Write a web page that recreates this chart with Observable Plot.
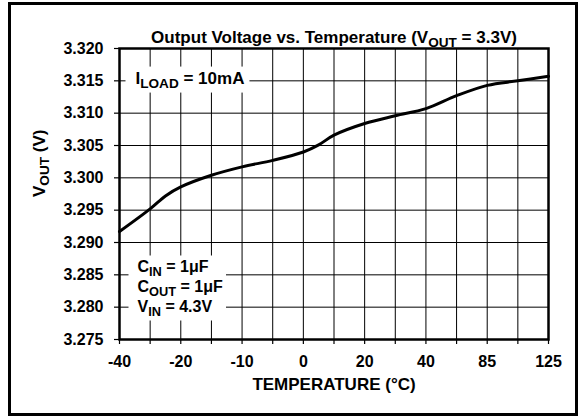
<!DOCTYPE html>
<html>
<head>
<meta charset="utf-8">
<script src="https://cdn.jsdelivr.net/npm/d3@7"></script>
<script src="https://cdn.jsdelivr.net/npm/@observablehq/plot@0.6"></script>
<style>
  body { margin: 0; background: #fff; }
  svg { display: block; }
</style>
</head>
<body>
<div id="chart"></div>
<script>
// ---- data ----
const temperatureTicks = [-40, -20, -10, 0, 20, 40, 85, 125];
const temperatureGrid = [-40, -30, -20, -15, -10, -5, 0, 10, 20, 30, 40, 62.5, 85, 105, 125];
const voltageTicks = [3.275, 3.28, 3.285, 3.29, 3.295, 3.3, 3.305, 3.31, 3.315, 3.32];
const temperature = [-40, -30, -25, -20, -15, -10, -5, 0, 5, 10, 20, 30, 40, 62.5, 85, 105, 125];
const vout = [3.2917, 3.2952, 3.2972, 3.2986, 3.3004, 3.3017, 3.3027, 3.3040, 3.3051, 3.3066, 3.3084, 3.3096, 3.3107, 3.3127, 3.3143, 3.3150, 3.3157];
const titleText = "Output Voltage vs. Temperature (V_{OUT} = 3.3V)";
const xLabel = "TEMPERATURE (°C)";
const yLabel = "V_{OUT} (V)";
const loadNote = "I_{LOAD} = 10mA";
const condNotes = ["C_{IN} = 1μF", "C_{OUT} = 1μF", "V_{IN} = 4.3V"];

const table = temperature.map((t, i) => ({t, v: vout[i]}));

// ---- layout ----
const W = 587, H = 419;
const mL = 119, mR = 39, mT = 48, mB = 80;
const xRange = temperatureTicks.map((_, i) => mL + i * (W - mL - mR) / (temperatureTicks.length - 1));
const font = "'Liberation Sans', Arial, Helvetica, sans-serif";

const chart = Plot.plot({
  width: W,
  height: H,
  marginLeft: mL,
  marginRight: mR,
  marginTop: mT,
  marginBottom: mB,
  style: {fontFamily: font, fontSize: "16px", fontWeight: "bold", color: "#000", background: "#fff", overflow: "visible"},
  x: {type: "linear", domain: temperatureTicks, range: xRange},
  y: {domain: [3.275, 3.32]},
  marks: [
    Plot.gridX(temperatureGrid, {stroke: "#000", strokeOpacity: 1, strokeWidth: 1}),
    Plot.gridY(voltageTicks, {stroke: "#000", strokeOpacity: 1, strokeWidth: 1}),
    Plot.axisX(temperatureGrid, {
      tickSize: 5, tickPadding: 11, strokeWidth: 1.2,
      tickFormat: d => temperatureTicks.includes(d) ? String(d) : "",
      fontSize: 16, label: null
    }),
    Plot.axisY(voltageTicks, {tickSize: 5, tickPadding: 11, strokeWidth: 1.2, tickFormat: d3.format(".3f"), fontSize: 16, label: null}),
    Plot.frame({stroke: "#000", strokeWidth: 2.5}),
    Plot.line(table, {x: "t", y: "v", curve: "catmull-rom", stroke: "#000", strokeWidth: 3}),
    Plot.text([titleText], {text: d => d, frameAnchor: "top", dy: -18, fontSize: 17}),
    Plot.text([xLabel], {text: d => d, frameAnchor: "bottom", dy: 50, fontSize: 17}),
    Plot.text([yLabel], {text: d => d, frameAnchor: "left", dx: -80, dy: 3, rotate: -90, fontSize: 17}),
    Plot.text([loadNote], {text: d => d, frameAnchor: "top-left", textAnchor: "start", dx: 16, dy: 23, fontSize: 17}),
    ...condNotes.map((s, i) => Plot.text([s], {text: d => d, frameAnchor: "bottom-left", textAnchor: "start", dx: 18, dy: -68 + i * 20, fontSize: 16}))
  ]
});

document.getElementById("chart").appendChild(chart);
const svg = chart.tagName.toLowerCase() === "svg" ? chart : chart.querySelector("svg");
const NS = "http://www.w3.org/2000/svg";

// subscripts: turn "_{...}" into lowered, smaller tspans
function richify(el) {
  const s = el.textContent;
  if (!s.includes("_{")) return;
  const fs = parseFloat(getComputedStyle(el).fontSize) || 16;
  const shift = Math.round(fs * 0.25);
  const parts = s.split(/_\{([^}]*)\}/);
  while (el.firstChild) el.removeChild(el.firstChild);
  let lowered = false;
  parts.forEach((p, i) => {
    if (p === "") return;
    const ts = document.createElementNS(NS, "tspan");
    ts.textContent = p;
    if (i % 2 === 1) {
      ts.setAttribute("font-size", (fs * 0.8).toFixed(1));
      ts.setAttribute("dy", shift);
      lowered = true;
    } else if (lowered) {
      ts.setAttribute("dy", -shift);
      lowered = false;
    }
    el.appendChild(ts);
  });
}
svg.querySelectorAll("text").forEach(t => { if (!t.querySelector("tspan")) richify(t); });

// white boxes behind the notes
const svgRect = svg.getBoundingClientRect();
function topGroup(el) { let g = el; while (g.parentNode !== svg) g = g.parentNode; return g; }
function boxBehind(texts, padL, padR, padT, padB) {
  let x0 = Infinity, y0 = Infinity, x1 = -Infinity, y1 = -Infinity;
  texts.forEach(t => {
    const r = t.getBoundingClientRect();
    x0 = Math.min(x0, r.left - svgRect.left); y0 = Math.min(y0, r.top - svgRect.top);
    x1 = Math.max(x1, r.right - svgRect.left); y1 = Math.max(y1, r.bottom - svgRect.top);
  });
  const rect = document.createElementNS(NS, "rect");
  rect.setAttribute("x", x0 - padL); rect.setAttribute("y", y0 - padT);
  rect.setAttribute("width", x1 - x0 + padL + padR); rect.setAttribute("height", y1 - y0 + padT + padB);
  rect.setAttribute("fill", "#fff");
  svg.insertBefore(rect, topGroup(texts[0]));
}
const allTexts = Array.from(svg.querySelectorAll("text"));
const noteLoad = allTexts.filter(t => t.textContent === loadNote.replace(/_\{([^}]*)\}/g, "$1"));
const noteCond = allTexts.filter(t => condNotes.map(s => s.replace(/_\{([^}]*)\}/g, "$1")).includes(t.textContent));
if (noteLoad.length) boxBehind(noteLoad, 10, 5, 2, 2);
if (noteCond.length) boxBehind(noteCond, 9, 3, 2, 2);

// outer border
const border = document.createElementNS(NS, "rect");
border.setAttribute("x", 9.5); border.setAttribute("y", 3.5);
border.setAttribute("width", W - 20); border.setAttribute("height", H - 8);
border.setAttribute("fill", "none"); border.setAttribute("stroke", "#000"); border.setAttribute("stroke-width", 3);
svg.appendChild(border);
</script>
</body>
</html>
